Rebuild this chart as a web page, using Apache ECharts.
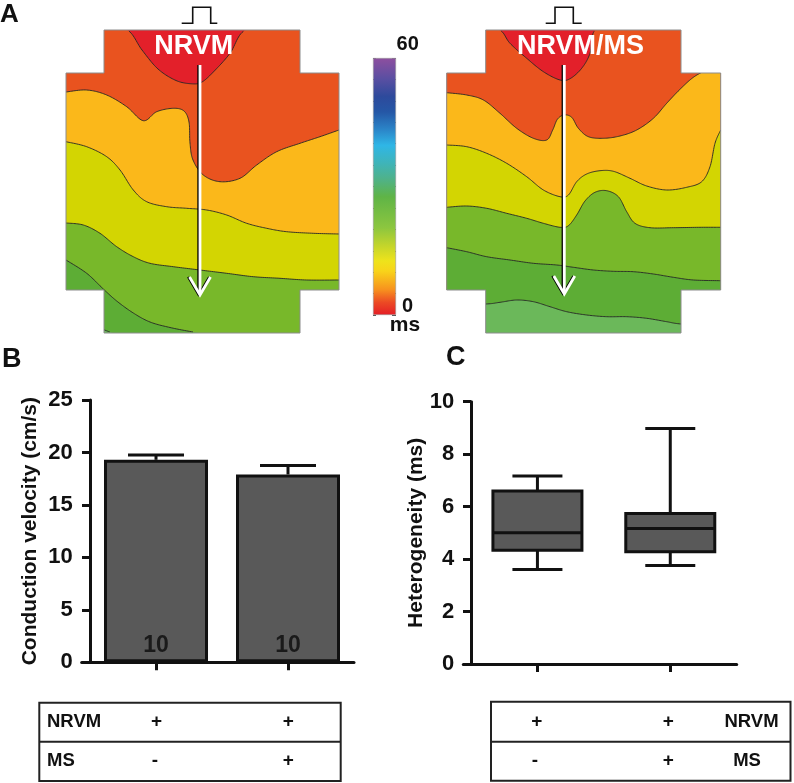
<!DOCTYPE html>
<html><head><meta charset="utf-8">
<script src="https://cdn.jsdelivr.net/npm/echarts@6/dist/echarts.min.js"></script>
<style>html,body{margin:0;padding:0;background:#fff}#c{width:794px;height:783px}</style>
</head><body><div id="c"></div>
<script>
// ================= DATA =================
// Panel B: conduction velocity (cm/s)
const groups = ['NRVM', 'NRVM/MS'];
const cvMean = [19.3, 17.9];
const cvSem = [0.45, 0.85];
const cvN = [10, 10];
// Panel C: heterogeneity (ms) box plot
const hetMin = [3.6, 3.76];
const hetQ1 = [4.34, 4.28];
const hetMedian = [5.0, 5.17];
const hetQ3 = [6.6, 5.74];
const hetMax = [7.17, 8.98];
// Colour scale (ms)
const colorbarMin = 0;
const colorbarMax = 60;
// Activation maps: isochrone boundaries in map units ([x, y], y downward)
const leftIso1 = [[0,0],[40,0],[61.7,0.3],[76,20],[92,39],[110,50.5],[125.7,53.8],[136,52],[148.3,41],[164,23.3],[179,0.3],[210,0],[273,0]];
const leftIso2 = [[0,62],[20.7,60],[40.7,65],[60.7,76.7],[77.3,90.7],[90.7,81.7],[107.3,78.3],[118,81],[123,92],[124,113],[127,130],[137.3,145],[154,151.7],[174,148.3],[190.7,135],[210.7,121.7],[234,113.3],[254,106.7],[273,100]];
const leftIso3 = [[0,111.7],[20.7,116.7],[40.7,126.7],[54,140],[67.3,160],[80.7,171.7],[100.7,176.7],[120.7,178.3],[140.7,180],[160.7,185],[180.7,193.3],[200.7,198.3],[220.7,201.7],[247.3,203.3],[273,204]];
const leftIso4 = [[0,193],[17.3,195],[34,203.3],[50.7,216.7],[67.3,226.7],[84,233.3],[107.3,236.7],[134,240],[160.7,243.3],[187.3,246.7],[214,248.3],[240.7,250],[273,250]];
const leftIso5 = [[0,230],[20.7,243.3],[37.3,259],[50.7,271],[67.3,283],[84,292],[104,297.5],[127,302],[150,306],[200,312],[273,320]];
const leftIso6 = [[0,285],[20,292],[37.3,299.5],[47.3,303.5],[60,310],[273,340]];
const rightIso1 = [[0,0],[35,0],[53.3,0.3],[63.3,13.3],[80,28.3],[96.7,41.7],[113.3,50],[123.3,48.7],[135,38.3],[143.3,23.3],[148.3,0.3],[170,0],[274,0]];
const rightIso2 = [[0,62.7],[20,65],[36.7,70],[53.3,83.3],[70,98.3],[86.7,108.3],[100,110],[106,100],[110.7,89.3],[117.3,85],[125,87.3],[131.7,98.3],[141.7,106.7],[156.7,108.3],[173.3,106],[190,100],[206.7,88.3],[220,73.3],[233.3,59.3],[246.7,47.3],[260,40],[274,35]];
const rightIso3 = [[0,115],[20,116.7],[40,123.3],[60,133.3],[80,146.7],[96.7,160],[113.3,166.7],[121.7,165],[130,151.7],[140,144],[153.3,140.7],[166.7,141.3],[183.3,148.3],[200,156],[220,160],[240,157.3],[255,151.7],[263.3,136.7],[268.3,113.3],[274,100]];
const rightIso4 = [[0,177.3],[20,176],[40,178.3],[60,183.3],[80,188.3],[96.7,193.3],[113.3,197.3],[121.7,195.7],[130,185],[138.3,171],[148.3,162.3],[160,160.7],[171.7,166.7],[180,181.7],[188.3,193.3],[203.3,197.7],[226.7,197.7],[253.3,197.3],[274,197.3]];
const rightIso5 = [[0,217.7],[20,221.7],[40,226.7],[63.3,230],[86.7,233.3],[110,235],[126.7,237.3],[146.7,240],[166.7,241.3],[186.7,241.7],[206.7,244],[226.7,247.3],[246.7,250],[274,250.7]];
const rightIso6 = [[0,275],[39,274],[53.3,272.3],[70,270],[86.7,271.7],[103.3,276.7],[120,281.7],[140,285],[160,286.7],[180,286.7],[200,288.3],[220,291.7],[234.3,294],[274,297]];
const bandColors = ['#e3202a','#e9531f','#fbb81a','#d3d502','#78b82a','#5dad35','#6bb85a'];

// ================= HELPERS =================
const FONT = '"Liberation Sans", Arial, sans-serif';
const leftShape = {w:273, h:303, tabL:38, tabR:234, midT:43, midB:260, arrowX:134, arrowTop:35, arrowTip:265};
const rightShape = {w:274, h:303, tabL:39, tabR:234.3, midT:43, midB:260, arrowX:117.6, arrowTop:35, arrowTip:264};

function catmull(pts, seg) {
  const out = [];
  for (let i = 0; i < pts.length - 1; i++) {
    const p0 = pts[Math.max(i-1,0)], p1 = pts[i], p2 = pts[i+1], p3 = pts[Math.min(i+2, pts.length-1)];
    for (let s = 0; s < seg; s++) {
      const t = s/seg, t2 = t*t, t3 = t2*t;
      const f = k => 0.5*((2*p1[k]) + (-p0[k]+p2[k])*t + (2*p0[k]-5*p1[k]+4*p2[k]-p3[k])*t2 + (-p0[k]+3*p1[k]-3*p2[k]+p3[k])*t3);
      out.push([f(0), f(1)]);
    }
  }
  out.push(pts[pts.length-1].slice());
  return out;
}

function mapRender(isos, shape) {
  return function (params, api) {
    const tl = api.coord([0,0]), br = api.coord([shape.w, shape.h]);
    const L = tl[0], T = tl[1], R = br[0], B = br[1];
    const clampPt = p => [Math.min(R, Math.max(L, p[0])), Math.min(B, Math.max(T, p[1]))];
    const children = [{type:'rect', shape:{x:L, y:T, width:R-L, height:B-T}, style:{fill:bandColors[0]}}];
    const runs = [];
    isos.forEach((iso, k) => {
      const dense = catmull(iso.map(p => api.coord(p)), 14);
      const cl = dense.map(clampPt);
      children.push({type:'polygon', shape:{points: cl.concat([[R,B],[L,B]])}, style:{fill:bandColors[k+1]}});
      let run = [];
      dense.forEach(p => {
        if (p[0] >= L-0.1 && p[0] <= R+0.1 && p[1] > T+0.8 && p[1] < B-0.8) run.push(p);
        else { if (run.length > 1) runs.push(run); run = []; }
      });
      if (run.length > 1) runs.push(run);
    });
    runs.forEach(r => children.push({type:'polyline', shape:{points:r}, style:{stroke:'#262626', lineWidth:0.9, fill:'none'}}));
    const a = api.coord([shape.tabL, shape.midT]), b = api.coord([shape.tabR, shape.midB]);
    const m = 3;
    children.push({type:'rect', shape:{x:L-m, y:T-m, width:a[0]-L+m, height:a[1]-T+m}, style:{fill:'#fff'}});
    children.push({type:'rect', shape:{x:b[0], y:T-m, width:R-b[0]+m, height:a[1]-T+m}, style:{fill:'#fff'}});
    children.push({type:'rect', shape:{x:L-m, y:b[1], width:a[0]-L+m, height:B-b[1]+m}, style:{fill:'#fff'}});
    children.push({type:'rect', shape:{x:b[0], y:b[1], width:R-b[0]+m, height:B-b[1]+m}, style:{fill:'#fff'}});
    children.push({type:'polygon', shape:{points:[[a[0],T],[b[0],T],[b[0],a[1]],[R,a[1]],[R,b[1]],[b[0],b[1]],[b[0],B],[a[0],B],[a[0],b[1]],[L,b[1]],[L,a[1]],[a[0],a[1]]]},
      style:{fill:'none', stroke:'#8c8c8c', lineWidth:1}});
    const s0 = api.coord([shape.arrowX, shape.arrowTop]), s1 = api.coord([shape.arrowX, shape.arrowTip]);
    const head = (dx) => [[s1[0]-10.5+dx, s1[1]-18],[s1[0]+dx, s1[1]],[s1[0]+10.5+dx, s1[1]-18]];
    children.push({type:'polyline', shape:{points:[[s0[0]-1.8,s0[1]],[s1[0]-1.8,s1[1]-2]]}, style:{stroke:'#000', lineWidth:1.8, fill:'none'}});
    children.push({type:'polyline', shape:{points:head(-1.6)}, style:{stroke:'#000', lineWidth:1.8, fill:'none'}});
    children.push({type:'polyline', shape:{points:[s0,[s1[0],s1[1]-1]]}, style:{stroke:'#fff', lineWidth:2.8, fill:'none'}});
    children.push({type:'polyline', shape:{points:head(0)}, style:{stroke:'#fff', lineWidth:2.8, fill:'none'}});
    return {type:'group', children};
  };
}

const axisStyle = {lineStyle:{color:'#111', width:3}};
const tickLabel = {fontSize:22, fontWeight:'bold', color:'#111', fontFamily:FONT, margin:9};
const nameStyle = {fontSize:21, fontWeight:'bold', color:'#111', fontFamily:FONT};

function txt(text, x, y, size, opts) {
  opts = opts || {};
  return {type:'text', x:x, y:y, z:100, style:{text:text, fill:opts.fill || '#111', font:'bold ' + size + 'px ' + FONT,
    textAlign:opts.align || 'center', textVerticalAlign:'middle'}};
}

// ================= CHART =================
const chart = echarts.init(document.getElementById('c'), null, {renderer:'canvas'});
const option = {
  animation: false,
  backgroundColor: '#fff',
  grid: [
    {left:66, top:30, width:273, height:303},
    {left:446.7, top:30, width:274, height:303},
    {left:373, top:58, width:23, height:257},
    {left:81.7, top:400, width:272.3, height:262.3},
    {left:463.3, top:401.7, width:273.4, height:262.3}
  ],
  xAxis: [
    {gridIndex:0, type:'value', min:0, max:leftShape.w, show:false},
    {gridIndex:1, type:'value', min:0, max:rightShape.w, show:false},
    {gridIndex:2, type:'category', data:[''], show:false},
    {gridIndex:3, type:'value', min:-0.063, max:2, axisLine:axisStyle, splitLine:{show:false},
      axisTick:{show:true, length:8, lineStyle:{color:'#111', width:3}, customValues:[0.5, 1.5]},
      axisLabel:{show:false}},
    {gridIndex:4, type:'value', min:-0.058, max:2, axisLine:axisStyle, splitLine:{show:false},
      axisTick:{show:true, length:8, lineStyle:{color:'#111', width:3}, customValues:[0.5, 1.5]},
      axisLabel:{show:false}}
  ],
  yAxis: [
    {gridIndex:0, type:'value', min:0, max:leftShape.h, inverse:true, show:false},
    {gridIndex:1, type:'value', min:0, max:rightShape.h, inverse:true, show:false},
    {gridIndex:2, type:'value', min:colorbarMin, max:colorbarMax, interval:5, position:'left',
      axisLine:{show:false}, axisLabel:{show:false}, splitLine:{show:false},
      axisTick:{show:true, inside:true, length:3, lineStyle:{color:'#555', width:1}}},
    {gridIndex:2, type:'value', min:colorbarMin, max:colorbarMax, interval:5, position:'right',
      axisLine:{show:false}, axisLabel:{show:false}, splitLine:{show:false},
      axisTick:{show:true, inside:true, length:4, lineStyle:{color:'#555', width:1}}},
    {gridIndex:3, type:'value', min:0, max:25, interval:5, axisLine:Object.assign({show:true, onZero:true}, axisStyle),
      axisTick:{show:true, length:8, lineStyle:{color:'#111', width:3}}, axisLabel:tickLabel, splitLine:{show:false},
      name:'Conduction velocity (cm/s)', nameLocation:'middle', nameGap:41, nameMoveOverlap:false, nameTextStyle:nameStyle},
    {gridIndex:4, type:'value', min:0, max:10, interval:2, axisLine:Object.assign({show:true, onZero:true}, axisStyle),
      axisTick:{show:true, length:8, lineStyle:{color:'#111', width:3}}, axisLabel:tickLabel, splitLine:{show:false},
      name:'Heterogeneity (ms)', nameLocation:'middle', nameGap:36.5, nameMoveOverlap:false, nameTextStyle:nameStyle}
  ],
  series: [
    {type:'custom', xAxisIndex:0, yAxisIndex:0, data:[[0,0]], z:2,
      renderItem: mapRender([leftIso1,leftIso2,leftIso3,leftIso4,leftIso5,leftIso6], leftShape)},
    {type:'custom', xAxisIndex:1, yAxisIndex:1, data:[[0,0]], z:2,
      renderItem: mapRender([rightIso1,rightIso2,rightIso3,rightIso4,rightIso5,rightIso6], rightShape)},
    {type:'bar', xAxisIndex:2, yAxisIndex:2, data:[colorbarMax], barWidth:23, z:2,
      itemStyle:{borderColor:'#9a9a9a', borderWidth:0.6, color:{type:'linear', x:0, y:1, x2:0, y2:0, colorStops:[
        {offset:0, color:'#e41e26'},{offset:0.05, color:'#ec4b24'},{offset:0.1, color:'#f7931e'},
        {offset:0.17, color:'#f8d31a'},{offset:0.21, color:'#eee31b'},{offset:0.27, color:'#c3d52b'},
        {offset:0.34, color:'#8cc63f'},{offset:0.46, color:'#5fb446'},{offset:0.53, color:'#4fb28a'},
        {offset:0.59, color:'#3fb4b8'},{offset:0.66, color:'#2fb6e6'},{offset:0.72, color:'#2b86c9'},
        {offset:0.79, color:'#2557a6'},{offset:0.85, color:'#2d4a9c'},{offset:0.92, color:'#5a4fa2'},
        {offset:1, color:'#8e4f9f'}]}}},
    {type:'bar', xAxisIndex:3, yAxisIndex:4, barWidth:104, z:3,
      data: groups.map((g, i) => [i + 0.5, cvMean[i]]),
      itemStyle:{color:'#595959', borderColor:'#111', borderWidth:3},
      label:{show:true, position:'insideBottom', distance:5, fontSize:23, fontWeight:'bold', color:'#1a1a1a', fontFamily:FONT,
        formatter: p => String(cvN[p.dataIndex])}},
    {type:'custom', xAxisIndex:3, yAxisIndex:4, z:4,
      data: groups.map((g, i) => [i + 0.5, cvMean[i], cvSem[i]]),
      renderItem: function (params, api) {
        const x = api.value(0), m = api.value(1), s = api.value(2);
        const p0 = api.coord([x, m]), p1 = api.coord([x, m + s]);
        return {type:'group', children:[
          {type:'line', shape:{x1:p0[0], y1:p0[1], x2:p1[0], y2:p1[1]}, style:{stroke:'#111', lineWidth:3}},
          {type:'line', shape:{x1:p1[0]-28, y1:p1[1], x2:p1[0]+28, y2:p1[1]}, style:{stroke:'#111', lineWidth:3}}]};
      }},
    {type:'custom', xAxisIndex:4, yAxisIndex:5, z:3,
      data: groups.map((g, i) => [i + 0.5, hetMin[i], hetQ1[i], hetMedian[i], hetQ3[i], hetMax[i]]),
      renderItem: function (params, api) {
        const x = api.value(0);
        const pMin = api.coord([x, api.value(1)]), pQ1 = api.coord([x, api.value(2)]), pMed = api.coord([x, api.value(3)]);
        const pQ3 = api.coord([x, api.value(4)]), pMax = api.coord([x, api.value(5)]);
        const hw = 44.5, cw = 25, st = {stroke:'#111', lineWidth:3};
        return {type:'group', children:[
          {type:'line', shape:{x1:pMax[0], y1:pMax[1], x2:pQ3[0], y2:pQ3[1]}, style:st},
          {type:'line', shape:{x1:pMin[0], y1:pMin[1], x2:pQ1[0], y2:pQ1[1]}, style:st},
          {type:'line', shape:{x1:pMax[0]-cw, y1:pMax[1], x2:pMax[0]+cw, y2:pMax[1]}, style:st},
          {type:'line', shape:{x1:pMin[0]-cw, y1:pMin[1], x2:pMin[0]+cw, y2:pMin[1]}, style:st},
          {type:'rect', shape:{x:pQ3[0]-hw, y:pQ3[1], width:2*hw, height:pQ1[1]-pQ3[1]}, style:{fill:'#595959', stroke:'#111', lineWidth:3}},
          {type:'line', shape:{x1:pMed[0]-hw, y1:pMed[1], x2:pMed[0]+hw, y2:pMed[1]}, style:st}]};
      }}
  ],
  graphic: [
    txt('A', 0, 15, 26, {align:'left'}),
    txt('B', 2, 360, 27, {align:'left'}),
    txt('C', 446, 358, 27, {align:'left'}),
    {type:'polyline', z:100, shape:{points:[[181.7,23.3],[192.7,23.3],[192.7,7.3],[210.7,7.3],[210.7,23.3],[217.3,23.3]]}, style:{stroke:'#111', lineWidth:1.6, fill:'none'}},
    {type:'polyline', z:100, shape:{points:[[545.7,23.3],[555,23.3],[555,7.3],[573.3,7.3],[573.3,23.3],[581.7,23.3]]}, style:{stroke:'#111', lineWidth:1.6, fill:'none'}},
    txt('NRVM', 193.7, 47, 27, {fill:'#fff'}),
    txt('NRVM/MS', 580.5, 47, 27, {fill:'#fff'}),
    txt('60', 407.7, 44, 20),
    txt('0', 407.5, 306, 20),
    txt('ms', 405, 325, 21),
    // table B
    {type:'rect', z:100, shape:{x:39.3, y:702.7, width:301.4, height:78.3}, style:{fill:'none', stroke:'#222', lineWidth:2}},
    {type:'line', z:100, shape:{x1:39.3, y1:741.7, x2:340.7, y2:741.7}, style:{stroke:'#222', lineWidth:2}},
    txt('NRVM', 47, 722, 18.5, {align:'left'}), txt('+', 156.5, 722, 19), txt('+', 288.3, 722, 19),
    txt('MS', 47, 760.5, 18.5, {align:'left'}), txt('-', 155, 761, 19), txt('+', 288.3, 760.5, 19),
    // table C
    {type:'rect', z:100, shape:{x:491, y:701.7, width:299.5, height:79}, style:{fill:'none', stroke:'#222', lineWidth:2}},
    {type:'line', z:100, shape:{x1:491, y1:741.7, x2:790.5, y2:741.7}, style:{stroke:'#222', lineWidth:2}},
    txt('+', 536.7, 722, 19), txt('+', 668.3, 722, 19), txt('NRVM', 751.5, 722, 18.5),
    txt('-', 535, 761, 19), txt('+', 668.3, 760.5, 19), txt('MS', 747, 760.5, 18.5)
  ]
};
chart.setOption(option);
</script>
</body></html>
